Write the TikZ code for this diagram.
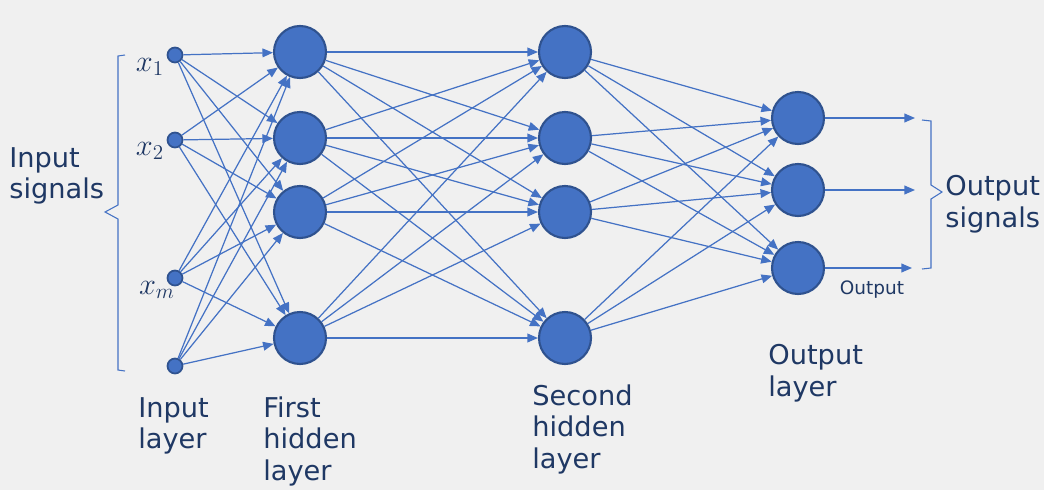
\documentclass[tikz,border=0pt]{standalone}
\usepackage{fontspec}
\setmainfont{DejaVu Sans}
\usetikzlibrary{arrows.meta,decorations.pathreplacing}
\definecolor{nfill}{HTML}{4472C4}
\definecolor{nbord}{HTML}{2F528F}
\definecolor{txt}{HTML}{1F3864}
\definecolor{bg}{HTML}{F0F0F0}
\begin{document}
\begin{tikzpicture}[x=0.02cm,y=-0.02cm,
 neu/.style={circle,draw=nbord,fill=nfill,line width=1.2pt,minimum size=1.04cm,inner sep=0pt},
 sm/.style={circle,draw=nbord,fill=nfill,line width=1pt,minimum size=0.3cm,inner sep=0pt},
 con/.style={draw=nfill,line width=0.7pt,-{Triangle[length=6pt,width=5pt]}},
 lab/.style={text=txt,font=\fontsize{15.5}{18}\selectfont,align=left,anchor=north west,inner sep=0pt},
 brace/.style={draw=nfill,line width=0.6pt}]
\fill[bg] (0,0) rectangle (1044,490);
\useasboundingbox (0,0) rectangle (1044,490);
\foreach \n/\y in {1/55,2/140,3/278,4/366} \node[sm] (i\n) at (175,\y) {};
\foreach \n/\y in {1/52,2/138,3/212,4/338} \node[neu] (h\n) at (300,\y) {};
\foreach \n/\y in {1/52,2/138,3/212,4/338} \node[neu] (s\n) at (565,\y) {};
\foreach \n/\y in {1/118,2/190,3/268} \node[neu] (o\n) at (798,\y) {};
\foreach \a in {1,...,4}{\foreach \b in {1,...,4}{\draw[con] (i\a) -- (h\b); \draw[con] (h\a) -- (s\b);}}
\foreach \a in {1,...,4}{\foreach \b in {1,...,3}{\draw[con] (s\a) -- (o\b);}}
\coordinate (e1) at (915,118); \coordinate (e2) at (915,190); \coordinate (e3) at (912,268);
\foreach \b in {1,2,3} \draw[con] (o\b) -- (e\b);
\node[text=txt,font=\LARGE] (x1) at (150,67) {$x_1$};
\node[text=txt,font=\LARGE] (x2) at (150,151) {$x_2$};
\node[text=txt,font=\LARGE] (xm) at (157,290) {$x_m$};
\draw[brace] (125,55) -- (118,56) -- (118,205) -- (105,212) -- (118,219) -- (118,370) -- (125,371);
\draw[brace] (922,120) -- (931,121) -- (931,185) -- (942,192) -- (931,199) -- (931,268) -- (922,269);
\node[lab] (is) at (9,147) {Input\\signals};
\node[lab] (os) at (945,175) {Output\\signals};
\node[lab] (il) at (138,397) {Input\\layer};
\node[lab] (fl) at (263,396) {First\\hidden\\layer};
\node[lab] (sl) at (532,384) {Second\\hidden\\layer};
\node[lab] (ol) at (768,344) {Output\\layer};
\node[text=txt,font=\fontsize{10.5}{12}\selectfont] (ot) at (872,290) {Output};
\end{tikzpicture}
\end{document}
